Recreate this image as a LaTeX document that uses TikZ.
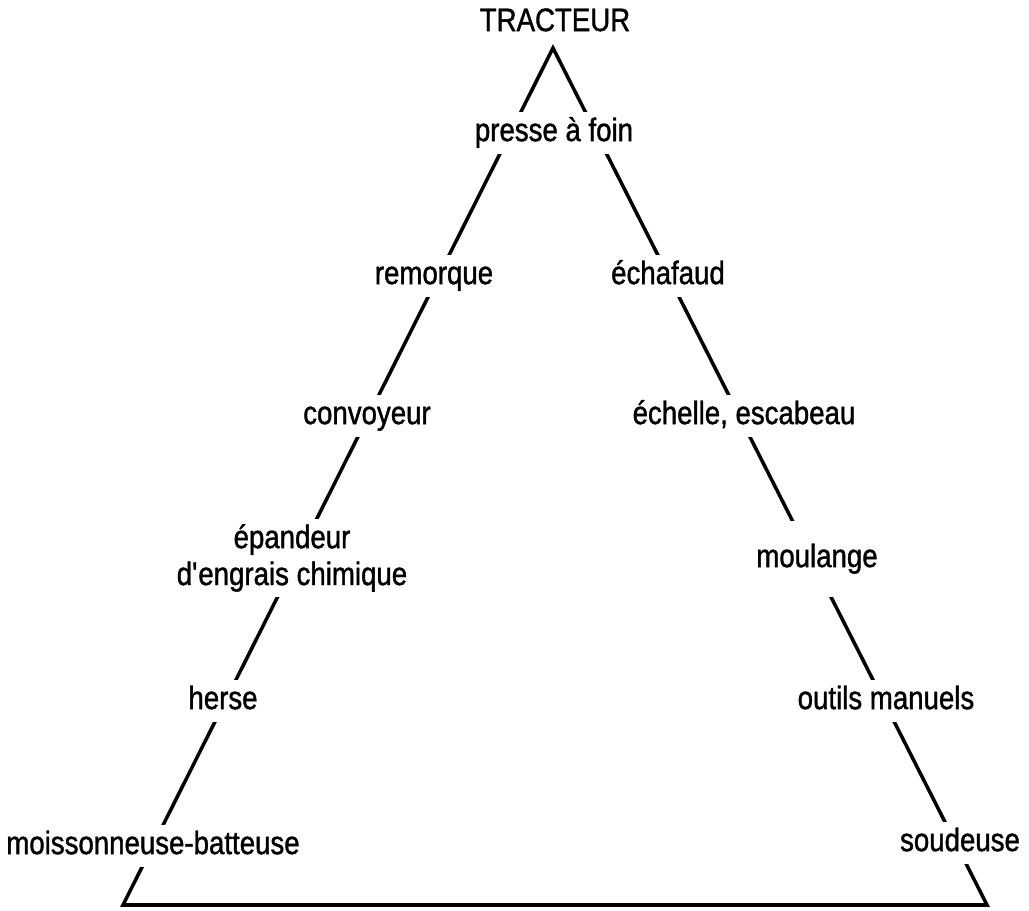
\documentclass[tikz,border=0pt]{standalone}
\usepackage{fontspec}
\setmainfont{Liberation Sans}[FakeStretch=0.85, FakeBold=1.2]
\begin{document}
\begin{tikzpicture}[x=0.02cm, y=-0.02cm,
    etiq/.style={fill=white, inner sep=3pt, font=\fontsize{18.5}{21}\selectfont},
    etiquette/.style={etiq, text height=13.3pt, text depth=4.1pt},
    cote/.style={line width=2pt, line join=miter}]
    % Cadre de l'image
    \useasboundingbox (0,0) rectangle (1029,911);

    % Sommets du triangle
    \coordinate (sommet) at (553,48);
    \coordinate (coinG) at (123,905);
    \coordinate (coinD) at (987,905);

    % Les trois côtés
    \draw[cote] (sommet) -- (coinG) -- (coinD) -- cycle;

    % En haut
    \node[etiquette, fill=none] (tracteur) at (555,23) {TRACTEUR};
    \node[etiquette] (presse) at (554,133) {presse à foin};

    % Côté gauche
    \node[etiquette] (remorque) at (434,276) {remorque};
    \node[etiquette] (convoyeur) at (367,416) {convoyeur};
    \node[etiq, align=center] (epandeur) at (292,558) {épandeur\\d\textquotesingle engrais chimique};
    \node[etiquette] (herse) at (223,701) {herse};
    \node[etiquette] (moissonneuse) at (153,846) {moissonneuse-batteuse};

    % Côté droit
    \node[etiquette] (echafaud) at (668,276) {échafaud};
    \node[etiquette] (echelle) at (744,416) {échelle, escabeau};
    \node[etiquette, inner ysep=13pt] (moulange) at (817,559) {moulange};
    \node[etiquette] (outils) at (886,701) {outils manuels};
    \node[etiquette] (soudeuse) at (960,843) {soudeuse};

\end{tikzpicture}
\end{document}
